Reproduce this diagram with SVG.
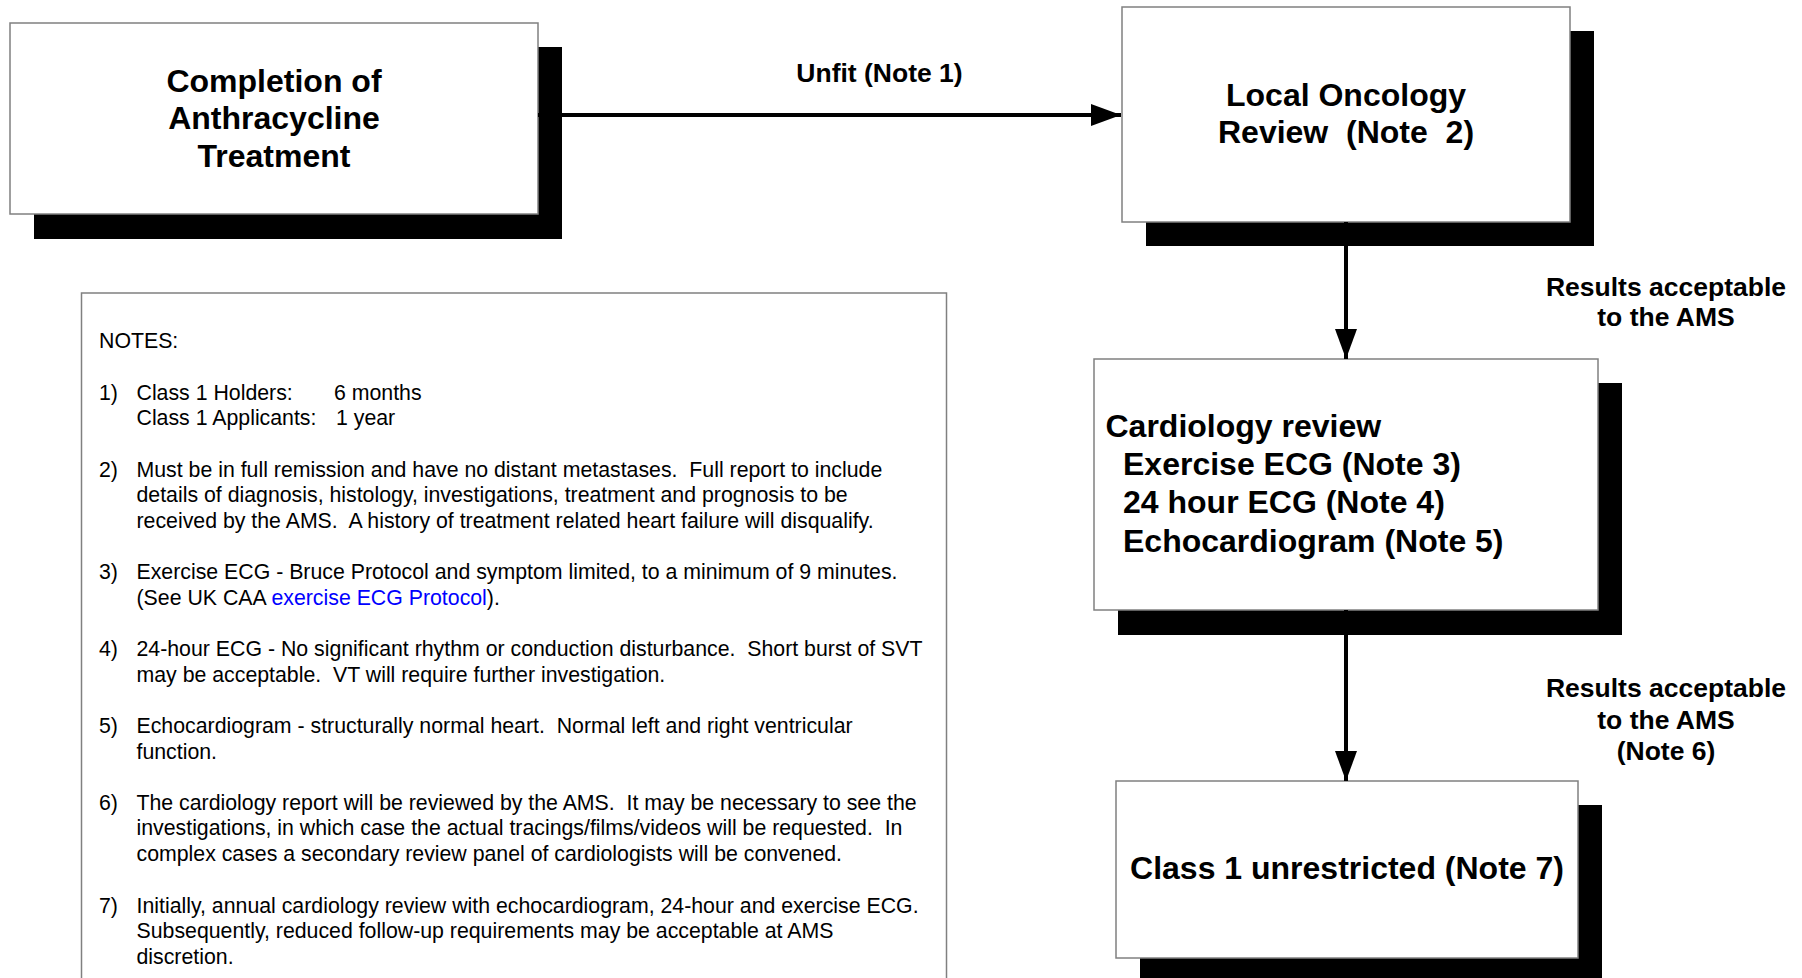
<svg xmlns="http://www.w3.org/2000/svg" width="1802" height="978" viewBox="0 0 1802 978">
<style>
.shadow{fill:#000}
.box{fill:#fff;stroke:#808080;stroke-width:1.5}
.bt{font-family:"Liberation Sans",Arial,sans-serif;font-weight:bold;font-size:32px;fill:#000}
.lbl{font-family:"Liberation Sans",Arial,sans-serif;font-weight:bold;font-size:26.5px;fill:#000;text-anchor:middle}
.nt{font-family:"Liberation Sans",Arial,sans-serif;font-size:21.3px;fill:#000}
.conn{stroke:#000;stroke-width:4;fill:none}
.link{fill:#0000ff}
</style>
<defs>
<marker id="arr" markerUnits="userSpaceOnUse" markerWidth="31" markerHeight="23" refX="30" refY="11" orient="auto" viewBox="0 0 31 23">
<path d="M0,0 L30,11 L0,22 z" fill="#000"/>
</marker>
</defs>
<rect width="1802" height="978" fill="#fff"/>

<g id="node-completion">
<rect class="shadow" x="34" y="47" width="528" height="192"/>
<rect class="box" x="10" y="23" width="528" height="191"/>
<text class="bt" text-anchor="middle" x="274" y="91.5">Completion of</text>
<text class="bt" text-anchor="middle" x="274" y="129">Anthracycline</text>
<text class="bt" text-anchor="middle" x="274" y="166.5">Treatment</text>
</g>

<g id="node-oncology">
<rect class="shadow" x="1146" y="31" width="448" height="215"/>
<rect class="box" x="1122" y="7" width="448" height="215"/>
<text class="bt" text-anchor="middle" x="1346" y="105.5">Local Oncology</text>
<text class="bt" text-anchor="middle" x="1346" y="142.5" xml:space="preserve">Review  (Note  2)</text>
</g>

<g id="node-cardiology">
<rect class="shadow" x="1118" y="383" width="504" height="252"/>
<rect class="box" x="1094" y="359" width="504" height="251"/>
<text class="bt" x="1105.5" y="436.5">Cardiology review</text>
<text class="bt" x="1123" y="475">Exercise ECG (Note 3)</text>
<text class="bt" x="1123" y="513.3">24 hour ECG (Note 4)</text>
<text class="bt" x="1123" y="551.6">Echocardiogram (Note 5)</text>
</g>

<g id="node-class1">
<rect class="shadow" x="1140" y="805" width="462" height="200"/>
<rect class="box" x="1116" y="781" width="462" height="177"/>
<text class="bt" text-anchor="middle" x="1347" y="878.5">Class 1 unrestricted (Note 7)</text>
</g>

<g id="connectors">
<line class="conn" x1="538" y1="115" x2="1121" y2="115" marker-end="url(#arr)"/>
<line class="conn" x1="1346" y1="222" x2="1346" y2="359" marker-end="url(#arr)"/>
<line class="conn" x1="1346" y1="610" x2="1346" y2="781" marker-end="url(#arr)"/>
<text class="lbl" x="879.5" y="81.7">Unfit (Note 1)</text>
<text class="lbl" x="1666" y="295.5">Results acceptable</text>
<text class="lbl" x="1666" y="326">to the AMS</text>
<text class="lbl" x="1666" y="697">Results acceptable</text>
<text class="lbl" x="1666" y="728.5">to the AMS</text>
<text class="lbl" x="1666" y="760">(Note 6)</text>
</g>

<g id="notes">
<rect x="81.5" y="293" width="865" height="720" fill="#fff" stroke="#808080" stroke-width="1.5"/>
<text class="nt" x="99" y="348.3">NOTES:</text>
<text class="nt" x="99" y="399.7">1)</text>
<text class="nt" x="136.5" y="399.7">Class 1 Holders:</text>
<text class="nt" x="334" y="399.7">6 months</text>
<text class="nt" x="136.5" y="425.4">Class 1 Applicants:</text>
<text class="nt" x="336" y="425.4">1 year</text>
<text class="nt" x="99" y="476.5">2)</text>
<text class="nt" x="136.5" y="476.5" xml:space="preserve">Must be in full remission and have no distant metastases.  Full report to include</text>
<text class="nt" x="136.5" y="502.2">details of diagnosis, histology, investigations, treatment and prognosis to be</text>
<text class="nt" x="136.5" y="527.9" xml:space="preserve">received by the AMS.  A history of treatment related heart failure will disqualify.</text>
<text class="nt" x="99" y="579.3">3)</text>
<text class="nt" x="136.5" y="579.3">Exercise ECG - Bruce Protocol and symptom limited, to a minimum of 9 minutes.</text>
<text class="nt" x="136.5" y="605" xml:space="preserve">(See UK CAA <tspan class="link">exercise ECG Protocol</tspan>).</text>
<text class="nt" x="99" y="656.1">4)</text>
<text class="nt" x="136.5" y="656.1" xml:space="preserve">24-hour ECG - No significant rhythm or conduction disturbance.  Short burst of SVT</text>
<text class="nt" x="136.5" y="681.8" xml:space="preserve">may be acceptable.  VT will require further investigation.</text>
<text class="nt" x="99" y="732.9">5)</text>
<text class="nt" x="136.5" y="732.9" xml:space="preserve">Echocardiogram - structurally normal heart.  Normal left and right ventricular</text>
<text class="nt" x="136.5" y="758.6">function.</text>
<text class="nt" x="99" y="809.7">6)</text>
<text class="nt" x="136.5" y="809.7" xml:space="preserve">The cardiology report will be reviewed by the AMS.  It may be necessary to see the</text>
<text class="nt" x="136.5" y="835.4" xml:space="preserve">investigations, in which case the actual tracings/films/videos will be requested.  In</text>
<text class="nt" x="136.5" y="861.1">complex cases a secondary review panel of cardiologists will be convened.</text>
<text class="nt" x="99" y="912.5">7)</text>
<text class="nt" x="136.5" y="912.5">Initially, annual cardiology review with echocardiogram, 24-hour and exercise ECG.</text>
<text class="nt" x="136.5" y="938.2">Subsequently, reduced follow-up requirements may be acceptable at AMS</text>
<text class="nt" x="136.5" y="963.9">discretion.</text>
</g>
</svg>
